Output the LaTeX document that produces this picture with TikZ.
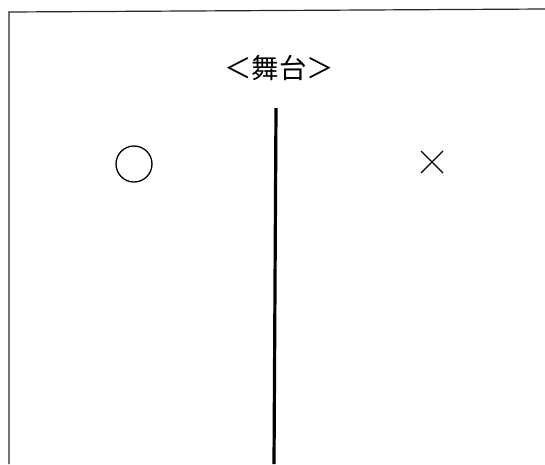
\documentclass[tikz,border=0pt]{standalone}
\usepackage{fontspec}
\usetikzlibrary{calc}
\newfontfamily\cjk{Noto Sans CJK JP}
\begin{document}
\begin{tikzpicture}[x=1pt,y=-1pt,
  frame/.style={line width=1.2pt,draw=black!85},
  wall/.style={line width=3.2pt},
  symline/.style={line width=1.3pt}]
\useasboundingbox (0,0) rectangle (545,464);
\coordinate (tl) at (9,12);
\coordinate (tr) at (545,9);
\coordinate (bl) at (9,464);
\draw[frame] (bl) -- (tl) -- (tr);
\node (stage) at (279,68) {\cjk\fontsize{27.5}{27.5}\selectfont ＜舞台＞};
\coordinate (wtop) at (276,108);
\coordinate (wbot) at (274,464);
\draw[wall] (wtop) -- (wbot);
\node[circle,draw,symline,minimum size=36pt,inner sep=0pt] (circ) at (134,164) {};
\coordinate (xc) at (432,162);
\draw[symline] ($(xc)+(-11,-11)$) -- ($(xc)+(11,11)$);
\draw[symline] ($(xc)+(-11,11)$) -- ($(xc)+(11,-11)$);
\end{tikzpicture}
\end{document}
